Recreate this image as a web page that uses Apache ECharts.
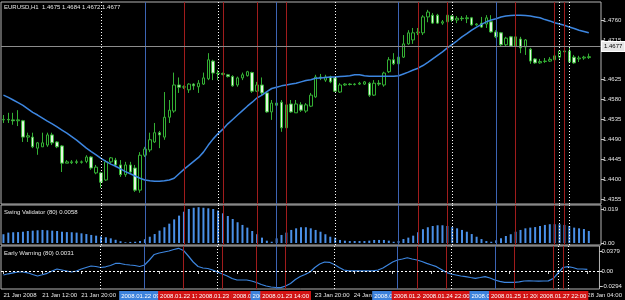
<!DOCTYPE html>
<html><head><meta charset="utf-8">
<script src="https://cdn.jsdelivr.net/npm/echarts@6/dist/echarts.min.js"></script>
<style>html,body{margin:0;padding:0;background:#000;}#c{width:625px;height:300px;}</style>
</head><body><div id="c"></div>
<script>
const opens = [1.4534,1.4535,1.4534,1.4532,1.4532,1.4495,1.4495,1.4470,1.4473,1.4477,
1.4500,1.4484,1.4475,1.4436,1.4437,1.4439,1.4438,1.4440,1.4450,1.4414,
1.4414,1.4398,1.4439,1.4443,1.4432,1.4410,1.4432,1.4425,1.4375,1.4454,
1.4466,1.4484,1.4505,1.4495,1.4540,1.4554,1.4613,1.4608,1.4602,1.4615,
1.4609,1.4615,1.4627,1.4667,1.4640,1.4639,1.4636,1.4632,1.4613,1.4629,
1.4634,1.4641,1.4599,1.4613,1.4595,1.4552,1.4567,1.4574,1.4516,1.4570,
1.4550,1.4568,1.4554,1.4565,1.4586,1.4631,1.4624,1.4631,1.4629,1.4597,
1.4613,1.4615,1.4614,1.4615,1.4615,1.4617,1.4590,1.4617,1.4613,1.4643,
1.4670,1.4661,1.4676,1.4706,1.4715,1.4731,1.4731,1.4767,1.4771,1.4771,
1.4753,1.4756,1.4769,1.4760,1.4764,1.4763,1.4765,1.4749,1.4753,1.4751,
1.4756,1.4733,1.4731,1.4704,1.4722,1.4701,1.4717,1.4699,1.4694,1.4672,
1.4663,1.4666,1.4667,1.4670,1.4676,1.4690,1.4690,1.4676,1.4672,1.4674,
1.4675];
const closes = [1.4535,1.4534,1.4532,1.4534,1.4495,1.4498,1.4473,1.4482,1.4482,1.4500,
1.4482,1.4473,1.4436,1.4439,1.4439,1.4438,1.4439,1.4450,1.4425,1.4427,
1.4393,1.4439,1.4448,1.4432,1.4410,1.4432,1.4416,1.4375,1.4454,1.4468,
1.4489,1.4505,1.4500,1.4540,1.4556,1.4613,1.4608,1.4609,1.4615,1.4611,
1.4617,1.4629,1.4670,1.4640,1.4639,1.4637,1.4632,1.4611,1.4629,1.4636,
1.4643,1.4599,1.4613,1.4595,1.4552,1.4572,1.4572,1.4516,1.4568,1.4552,
1.4570,1.4556,1.4568,1.4590,1.4631,1.4629,1.4631,1.4620,1.4599,1.4613,
1.4615,1.4614,1.4615,1.4617,1.4620,1.4590,1.4617,1.4615,1.4640,1.4670,
1.4661,1.4676,1.4706,1.4731,1.4731,1.4733,1.4767,1.4778,1.4753,1.4753,
1.4756,1.4771,1.4760,1.4764,1.4763,1.4765,1.4749,1.4751,1.4744,1.4765,
1.4733,1.4722,1.4704,1.4719,1.4701,1.4722,1.4697,1.4715,1.4667,1.4663,
1.4666,1.4667,1.4671,1.4679,1.4690,1.4688,1.4665,1.4663,1.4674,1.4676,
1.4677];
const lows = [1.4527,1.4527,1.4523,1.4520,1.4484,1.4484,1.4470,1.4455,1.4473,1.4473,
1.4477,1.4470,1.4416,1.4436,1.4434,1.4434,1.4435,1.4436,1.4421,1.4411,
1.4380,1.4396,1.4436,1.4427,1.4405,1.4405,1.4414,1.4371,1.4369,1.4450,
1.4461,1.4482,1.4470,1.4489,1.4527,1.4550,1.4595,1.4604,1.4595,1.4602,
1.4595,1.4613,1.4624,1.4624,1.4624,1.4635,1.4630,1.4609,1.4609,1.4624,
1.4632,1.4595,1.4597,1.4590,1.4550,1.4534,1.4565,1.4507,1.4514,1.4550,
1.4550,1.4552,1.4550,1.4563,1.4584,1.4624,1.4620,1.4617,1.4597,1.4595,
1.4611,1.4612,1.4612,1.4613,1.4613,1.4586,1.4588,1.4611,1.4609,1.4640,
1.4658,1.4658,1.4674,1.4704,1.4706,1.4726,1.4726,1.4755,1.4751,1.4751,
1.4749,1.4753,1.4756,1.4753,1.4758,1.4753,1.4747,1.4747,1.4742,1.4742,
1.4731,1.4719,1.4699,1.4701,1.4699,1.4697,1.4685,1.4681,1.4661,1.4661,
1.4661,1.4663,1.4665,1.4665,1.4672,1.4686,1.4663,1.4661,1.4665,1.4670,
1.4672];
const highs = [1.4545,1.4550,1.4550,1.4556,1.4534,1.4505,1.4505,1.4484,1.4505,1.4505,
1.4505,1.4486,1.4477,1.4443,1.4443,1.4444,1.4442,1.4454,1.4452,1.4432,
1.4416,1.4443,1.4450,1.4448,1.4443,1.4439,1.4439,1.4432,1.4461,1.4473,
1.4505,1.4527,1.4509,1.4597,1.4579,1.4641,1.4630,1.4612,1.4617,1.4617,
1.4624,1.4641,1.4685,1.4670,1.4647,1.4641,1.4638,1.4635,1.4632,1.4641,
1.4645,1.4643,1.4620,1.4630,1.4597,1.4579,1.4576,1.4579,1.4577,1.4579,
1.4579,1.4574,1.4572,1.4595,1.4636,1.4638,1.4636,1.4634,1.4631,1.4617,
1.4617,1.4617,1.4617,1.4620,1.4622,1.4620,1.4624,1.4624,1.4643,1.4676,
1.4685,1.4685,1.4726,1.4737,1.4742,1.4742,1.4771,1.4783,1.4776,1.4774,
1.4760,1.4774,1.4771,1.4769,1.4769,1.4771,1.4767,1.4753,1.4767,1.4771,
1.4771,1.4737,1.4733,1.4722,1.4724,1.4724,1.4722,1.4717,1.4697,1.4674,
1.4672,1.4674,1.4676,1.4683,1.4692,1.4692,1.4699,1.4681,1.4679,1.4679,
1.4684];
const maLine = [1.4590,1.4585,1.4579,1.4573,1.4567,1.4559,1.4551,1.4545,1.4538,1.4531,
1.4525,1.4518,1.4511,1.4504,1.4496,1.4488,1.4479,1.4470,1.4462,1.4455,
1.4447,1.4440,1.4434,1.4429,1.4423,1.4417,1.4412,1.4407,1.4402,1.4398,
1.4396,1.4395,1.4395,1.4396,1.4398,1.4402,1.4412,1.4422,1.4431,1.4440,
1.4449,1.4461,1.4477,1.4491,1.4503,1.4513,1.4525,1.4535,1.4545,1.4555,
1.4565,1.4574,1.4584,1.4590,1.4598,1.4605,1.4608,1.4611,1.4613,1.4615,
1.4617,1.4620,1.4623,1.4625,1.4628,1.4629,1.4630,1.4631,1.4631,1.4632,
1.4633,1.4634,1.4636,1.4636,1.4634,1.4633,1.4633,1.4633,1.4633,1.4633,
1.4633,1.4634,1.4638,1.4642,1.4647,1.4651,1.4657,1.4664,1.4672,1.4680,
1.4688,1.4697,1.4705,1.4713,1.4722,1.4729,1.4737,1.4744,1.4750,1.4756,
1.4760,1.4763,1.4767,1.4769,1.4770,1.4771,1.4771,1.4770,1.4769,1.4767,
1.4765,1.4761,1.4758,1.4754,1.4751,1.4748,1.4744,1.4741,1.4737,1.4734,
1.4731];
const swingValues = [0.0049,0.0058,0.0060,0.0061,0.0063,0.0067,0.0069,0.0071,0.0073,0.0071,
0.0069,0.0067,0.0063,0.0061,0.0060,0.0058,0.0054,0.0050,0.0045,0.0041,
0.0037,0.0032,0.0026,0.0018,0.0010,0.0004,0.0006,0.0007,0.0011,0.0021,
0.0035,0.0050,0.0069,0.0088,0.0108,0.0132,0.0153,0.0175,0.0190,0.0197,
0.0200,0.0197,0.0194,0.0190,0.0181,0.0166,0.0151,0.0134,0.0116,0.0101,
0.0086,0.0067,0.0049,0.0030,0.0013,0.0007,0.0026,0.0045,0.0058,0.0073,
0.0082,0.0088,0.0088,0.0082,0.0073,0.0063,0.0049,0.0035,0.0030,0.0017,
0.0013,0.0011,0.0011,0.0011,0.0011,0.0013,0.0017,0.0017,0.0017,0.0013,
0.0007,0.0011,0.0022,0.0030,0.0041,0.0060,0.0077,0.0088,0.0095,0.0099,
0.0099,0.0095,0.0089,0.0082,0.0073,0.0063,0.0050,0.0035,0.0022,0.0011,
0.0007,0.0015,0.0026,0.0039,0.0049,0.0063,0.0073,0.0082,0.0086,0.0089,
0.0095,0.0101,0.0105,0.0105,0.0105,0.0101,0.0095,0.0086,0.0082,0.0078,
0.0067];
const earlyValues = [-0.0076,-0.0053,-0.0034,-0.0019,-0.0019,-0.0034,-0.0067,-0.0095,-0.0072,-0.0044,
0.0000,0.0038,0.0019,0.0000,-0.0019,0.0000,0.0038,0.0067,0.0095,0.0086,
0.0067,0.0080,0.0105,0.0143,0.0143,0.0124,0.0114,0.0105,0.0086,0.0114,
0.0209,0.0314,0.0342,0.0361,0.0380,0.0409,0.0431,0.0390,0.0285,0.0171,
0.0086,0.0057,0.0048,0.0019,-0.0019,-0.0057,-0.0095,-0.0143,-0.0171,-0.0171,
-0.0171,-0.0190,-0.0219,-0.0257,-0.0285,-0.0304,-0.0314,-0.0317,-0.0285,-0.0238,
-0.0162,-0.0105,-0.0067,-0.0019,0.0067,0.0133,0.0171,0.0165,0.0124,0.0067,
0.0019,0.0002,0.0001,0.0001,0.0002,0.0002,0.0004,0.0019,0.0057,0.0114,
0.0171,0.0209,0.0228,0.0251,0.0228,0.0209,0.0181,0.0146,0.0114,0.0082,
0.0029,-0.0025,-0.0057,-0.0076,-0.0095,-0.0108,-0.0124,-0.0139,-0.0124,-0.0108,
-0.0133,-0.0171,-0.0196,-0.0215,-0.0215,-0.0215,-0.0205,-0.0190,-0.0188,-0.0190,
-0.0192,-0.0190,-0.0188,-0.0143,-0.0038,0.0067,0.0082,0.0067,0.0038,0.0038,
0.0031];
// trading days: [day, first hour, last hour]
const sessions = [['21 Jan',4,23],['22 Jan',0,23],['23 Jan',0,23],['24 Jan',0,23],['25 Jan',0,21],['27 Jan',22,23],['28 Jan',0,4]];
const timeLabels = {0:'21 Jan 2008',8:'21 Jan 12:00',16:'21 Jan 20:00',24:'22 Jan 04:00',32:'22 Jan 12:00',40:'22 Jan 20:00',48:'23 Jan 04:00',56:'23 Jan 12:00',64:'23 Jan 20:00',72:'24 Jan 04:00',80:'24 Jan 12:00',88:'24 Jan 20:00',96:'25 Jan 04:00',104:'25 Jan 12:00',112:'25 Jan 20:00',120:'28 Jan 04:00'};
const priceTicks = [1.4355,1.4400,1.4445,1.4490,1.4535,1.4580,1.4625,1.4715,1.4760];
const swingTicks = [0.0007,0,0.019];
const swingTickText = ['0.0007','0.00','0.019'];
const earlyTicks = [-0.0294,0,0.0379];
const earlyTickText = ['-0.0294','0.00','0.0379'];
const dayBreaks = [20,44,68,92,114,116];
const signalLines = [[29,'buy','2008.01.22 09:00'],[37,'sell','2008.01.22 17:00'],[45,'sell','2008.01.23 01:00'],[52,'sell','2008.01.23 08:00'],[56,'buy','2008.01.23 12:00'],[58,'sell','2008.01.23 14:00'],[81,'buy','2008.01.24 13:00'],[85,'sell','2008.01.24 17:00'],[91,'sell','2008.01.24 22:00'],[101,'buy','2008.01.25 09:00'],[105,'sell','2008.01.25 13:00'],[113,'sell','2008.01.25 21:00'],[115,'sell','2008.01.27 22:00']];

const cats = [];
sessions.forEach(s => { for (let h = s[1]; h <= s[2]; h++) cats.push(s[0] + ' ' + String(h).padStart(2,'0') + ':00'); });
cats.push('', '');

const FONT = 'Liberation Sans, Arial, sans-serif';
const TXT = '#e6e6e6';
const lineCol = {buy:'#3c64b4', sell:'#a01c1c'};
const boxCol = {buy:'#3c82dc', sell:'#d21414'};
const last = closes.length - 1;

function vLines(withLabels) {
  const d = dayBreaks.map(i => ({xAxis:i, lineStyle:{color:'#ffffff', type:[1,2], width:1}, label:{show:false}}));
  signalLines.forEach(s => d.push({xAxis:s[0], lineStyle:{color:lineCol[s[1]], type:'solid', width:1},
    label: withLabels ? {show:true, position:'start', formatter:s[2], color:'#ffffff', backgroundColor:boxCol[s[1]],
      padding:[2,2,1,2], fontSize:6, fontFamily:FONT, distance:2} : {show:false}}));
  return d;
}

const candles = opens.map((o,i) => [o, closes[i], lows[i], highs[i]]);
const chart = echarts.init(document.getElementById('c'), null, {renderer:'canvas'});
const hiddenX = (gi) => ({type:'category', gridIndex:gi, data:cats, boundaryGap:true, axisLine:{show:false}, axisTick:{show:false}, axisLabel:{show:false}, splitLine:{show:false}});
const gridBase = {show:true, left:1, width:600, borderColor:'#b4b4b4', borderWidth:1, backgroundColor:'transparent'};
chart.setOption({
  animation:false,
  backgroundColor:'#000000',
  title:[
    {text:'EURUSD,H1  ' + [opens[last], highs[last], lows[last], closes[last]].map(v=>v.toFixed(4)).join(' '), left:4, top:4, padding:0, textStyle:{color:TXT, fontSize:6, fontWeight:'normal', fontFamily:FONT}},
    {text:'Swing Validator (80) 0.0058', left:4, top:209, padding:0, textStyle:{color:TXT, fontSize:6, fontWeight:'normal', fontFamily:FONT}},
    {text:'Early Warning (80) 0.0031', left:4, top:250, padding:0, textStyle:{color:TXT, fontSize:6, fontWeight:'normal', fontFamily:FONT}}
  ],
  grid:[
    Object.assign({top:2, height:202}, gridBase),
    Object.assign({top:205, height:40}, gridBase),
    Object.assign({top:246, height:43}, gridBase)
  ],
  xAxis:[hiddenX(0), hiddenX(1), {
    type:'category', gridIndex:2, data:cats, boundaryGap:true,
    axisLine:{show:false},
    axisTick:{show:true, alignWithLabel:true, length:3, lineStyle:{color:'#cccccc'}, interval:(i)=>timeLabels[i]!==undefined},
    axisLabel:{show:true, interval:(i)=>timeLabels[i]!==undefined, formatter:(v,i)=>timeLabels[i]||'', align:'left', color:TXT, fontSize:6, fontFamily:FONT, margin:3},
    splitLine:{show:false}
  }],
  yAxis:[
    {type:'value', gridIndex:0, position:'right', min:1.43436, max:1.48008, splitLine:{show:false}, axisLine:{show:false},
     axisTick:{show:true, customValues:priceTicks, length:3, lineStyle:{color:'#cccccc'}},
     axisLabel:{customValues:priceTicks, formatter:v=>v.toFixed(4), color:TXT, fontSize:6, fontFamily:FONT, margin:2}},
    {type:'value', gridIndex:1, position:'right', min:-0.00112, max:0.02124, splitLine:{show:false}, axisLine:{show:false},
     axisTick:{show:true, customValues:swingTicks, length:3, lineStyle:{color:'#cccccc'}},
     axisLabel:{customValues:swingTicks, formatter:v=>swingTickText[swingTicks.indexOf(v)] ?? '', color:TXT, fontSize:6, fontFamily:FONT, margin:2}},
    {type:'value', gridIndex:2, position:'right', min:-0.0342, max:0.0475, splitLine:{show:false}, axisLine:{show:false},
     axisTick:{show:true, customValues:earlyTicks, length:3, lineStyle:{color:'#cccccc'}},
     axisLabel:{customValues:earlyTicks, formatter:v=>earlyTickText[earlyTicks.indexOf(v)] ?? '', color:TXT, fontSize:6, fontFamily:FONT, margin:2}}
  ],
  series:[
    {type:'candlestick', xAxisIndex:0, yAxisIndex:0, data:candles, barWidth:3, z:3,
     itemStyle:{color:'#000000', color0:'#e4f6e0', borderColor:'#34b034', borderColor0:'#34b034', borderWidth:1},
     markLine:{silent:true, symbol:['none','none'], animation:false,
       data: vLines(false).concat([{yAxis:closes[last], lineStyle:{color:'#8c8c8c', type:'solid', width:1},
         label:{show:true, position:'end', formatter:closes[last].toFixed(4), color:'#000000', backgroundColor:'#e6e6e6', borderColor:'#ffffff', borderWidth:1, padding:[2,2,1,2], fontSize:6, fontFamily:FONT, distance:1}}])}},
    {type:'line', xAxisIndex:0, yAxisIndex:0, data:maLine, symbol:'none', smooth:false, z:4,
     lineStyle:{color:'#3d86e0', width:1.5}},
    {type:'bar', xAxisIndex:1, yAxisIndex:1, data:swingValues, barWidth:2, z:2,
     itemStyle:{color:'#4a90e8'},
     markLine:{silent:true, symbol:['none','none'], animation:false, data:vLines(false)}},
    {type:'line', xAxisIndex:2, yAxisIndex:2, data:earlyValues, symbol:'none', z:4, clip:false,
     lineStyle:{color:'#3d86e0', width:1.2},
     markLine:{silent:true, symbol:['none','none'], animation:false,
       data: vLines(true).concat([{yAxis:0, lineStyle:{color:'#ffffff', type:[2,2], width:1}, label:{show:false}}])}}
  ]
});
</script></body></html>
